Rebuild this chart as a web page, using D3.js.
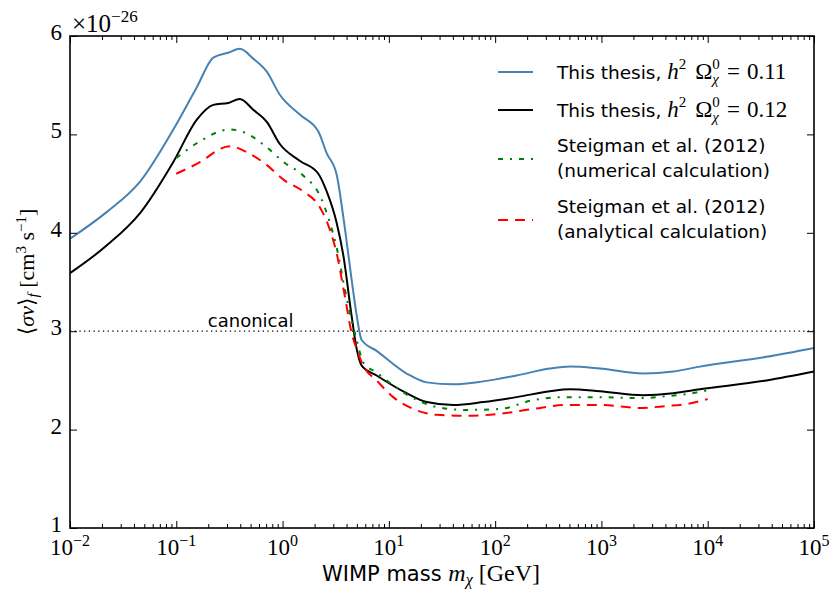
<!DOCTYPE html>
<html>
<head>
<meta charset="utf-8">
<script src="https://cdn.jsdelivr.net/npm/d3@7"></script>
<style>
  body { margin: 0; background: #fff; }
  svg { display: block; }
</style>
</head>
<body>
<div id="chart"></div>
<script>
// WIMP freeze-out cross-section vs mass (values in units of 1e-26 cm^3/s)
const massThesis = [0.01, 0.0221, 0.0456, 0.0938, 0.156, 0.223, 0.308, 0.397, 0.53, 0.708, 0.946,
  1.46, 2.17, 2.6, 3.23, 3.73, 4.47, 4.98, 5.55, 7.67, 14.7, 22.7, 40.4, 77.3, 159, 328, 506,
  968, 2477, 4742, 8453, 35810, 100000];
const sigma011 = [3.94, 4.21, 4.52, 5.05, 5.48, 5.78, 5.83, 5.87, 5.77, 5.64, 5.40,
  5.20, 5.03, 4.81, 4.59, 4.16, 3.52, 3.16, 2.91, 2.80, 2.57, 2.48, 2.46, 2.49, 2.55, 2.62, 2.64,
  2.62, 2.57, 2.59, 2.64, 2.74, 2.83];
const sigma012 = [3.59, 3.87, 4.20, 4.72, 5.15, 5.30, 5.32, 5.36, 5.25, 5.13, 4.90,
  4.73, 4.60, 4.42, 4.10, 3.77, 3.15, 2.82, 2.65, 2.55, 2.37, 2.28, 2.25, 2.28, 2.33, 2.39, 2.41,
  2.39, 2.35, 2.37, 2.41, 2.50, 2.59];

const massSteig = [0.1, 0.156, 0.32, 0.458, 0.708, 1.02, 1.57, 2.24, 2.79, 3.23, 3.86, 4.47,
  4.98, 5.75, 7.67, 11.0, 17.0, 28.2, 54.0, 111, 229, 470, 968, 2301, 4102, 6324, 10000];
const sigmaNum = [4.76, 4.91, 5.05, 5.01, 4.87, 4.72, 4.58, 4.38, 4.10, 3.85, 3.42, 3.11,
  2.91, 2.68, 2.58, 2.45, 2.32, 2.23, 2.20, 2.21, 2.30, 2.33, 2.33, 2.32, 2.34, 2.36, 2.40];
const sigmaAna = [4.60, 4.70, 4.88, 4.82, 4.69, 4.54, 4.42, 4.26, 4.03, 3.79, 3.35, 2.98,
  2.82, 2.65, 2.50, 2.33, 2.21, 2.15, 2.14, 2.16, 2.21, 2.25, 2.25, 2.22, 2.24, 2.26, 2.31];

const canonical = 3;
const yTicks = [1, 2, 3, 4, 5, 6];
const xExponents = [-2, -1, 0, 1, 2, 3, 4, 5];

const W = 833, H = 590;
const margin = {top: 36, right: 19, bottom: 62, left: 70};
const width = W - margin.left - margin.right,
      height = H - margin.top - margin.bottom;

const svg = d3.select("#chart").append("svg")
    .attr("width", W).attr("height", H);
const g = svg.append("g")
    .attr("transform", "translate(" + margin.left + "," + margin.top + ")");

const x = d3.scaleLog().domain([1e-2, 1e5]).range([0, width]);
const y = d3.scaleLinear().domain([1, 6]).range([height, 0]);

const serif = "'Liberation Serif', 'DejaVu Serif', serif";
const sans = "'DejaVu Sans', sans-serif";

// canonical line
g.append("line")
    .attr("x1", 0).attr("x2", width)
    .attr("y1", y(canonical)).attr("y2", y(canonical))
    .attr("stroke", "#000").attr("stroke-width", 1.3)
    .attr("stroke-dasharray", "1.3,3.4");
g.append("text")
    .attr("x", x(0.198)).attr("y", y(canonical) - 4)
    .attr("font-family", sans).attr("font-size", 18)
    .text("canonical");

const series = [
  {mass: massThesis, vals: sigma011, color: "#4682b4", dash: null},
  {mass: massThesis, vals: sigma012, color: "#000000", dash: null},
  {mass: massSteig, vals: sigmaNum, color: "#008000", dash: "5,7,2,7"},
  {mass: massSteig, vals: sigmaAna, color: "#ff0000", dash: "10,7"}
];

const line = d3.line()
    .x(d => x(d[0]))
    .y(d => y(d[1]))
    .curve(d3.curveMonotoneX);

series.forEach(s => {
  g.append("path")
    .datum(s.mass.map((m, i) => [m, s.vals[i]]))
    .attr("fill", "none")
    .attr("stroke", s.color)
    .attr("stroke-width", 2)
    .attr("stroke-dasharray", s.dash)
    .attr("d", line);
});

// axes: ticks inside on all four sides
const minor = [];
for (let e = -2; e < 5; e++) for (let k = 2; k < 10; k++) minor.push(k * Math.pow(10, e));
const majors = xExponents.map(e => Math.pow(10, e));

const axB = g.append("g").attr("transform", "translate(0," + height + ")");
axB.call(d3.axisBottom(x).tickValues(majors).tickSizeInner(-7).tickSizeOuter(0).tickFormat(""));
axB.append("g").call(d3.axisBottom(x).tickValues(minor).tickSizeInner(-4).tickSizeOuter(0).tickFormat(""));
const axT = g.append("g");
axT.call(d3.axisTop(x).tickValues(majors).tickSizeInner(-7).tickSizeOuter(0).tickFormat(""));
axT.append("g").call(d3.axisTop(x).tickValues(minor).tickSizeInner(-4).tickSizeOuter(0).tickFormat(""));
const axL = g.append("g");
axL.call(d3.axisLeft(y).tickValues(yTicks).tickSizeInner(-7).tickSizeOuter(0).tickFormat(""));
const axR = g.append("g").attr("transform", "translate(" + width + ",0)");
axR.call(d3.axisRight(y).tickValues(yTicks).tickSizeInner(-7).tickSizeOuter(0).tickFormat(""));
g.selectAll(".domain").remove();
g.selectAll(".tick line").attr("stroke", "#000").attr("stroke-width", 1);

g.append("rect")
    .attr("width", width).attr("height", height)
    .attr("fill", "none").attr("stroke", "#000").attr("stroke-width", 1.6);

// tick labels
yTicks.forEach(t => {
  g.append("text")
    .attr("x", -8).attr("y", y(t) + 4)
    .attr("text-anchor", "end")
    .attr("font-family", serif).attr("font-size", 23)
    .text(t);
});
xExponents.forEach(e => {
  const t = g.append("text")
    .attr("x", x(Math.pow(10, e))).attr("y", height + 27)
    .attr("text-anchor", "middle")
    .attr("font-family", serif).attr("font-size", 23);
  t.append("tspan").text("10");
  t.append("tspan").attr("dy", -9).attr("font-size", 16).text(e < 0 ? "\u2212" + (-e) : e);
});

// offset text
const off = g.append("text")
    .attr("x", 2).attr("y", -4)
    .attr("font-family", serif).attr("font-size", 25);
off.append("tspan").text("\u00d710");
off.append("tspan").attr("dy", -10).attr("font-size", 17).text("\u221226");

// axis labels
const xl = svg.append("text")
    .attr("x", margin.left + width / 2 - 11).attr("y", 581)
    .attr("text-anchor", "middle")
    .attr("font-family", sans).attr("font-size", 21);
xl.append("tspan").text("WIMP mass ");
xl.append("tspan").attr("font-family", serif).attr("font-style", "italic").attr("font-size", 24).text("m");
xl.append("tspan").attr("font-family", serif).attr("font-style", "italic").attr("font-size", 16).attr("dy", 4).text("\u03c7");
xl.append("tspan").attr("font-family", serif).attr("font-size", 24).attr("dy", -4).text(" [GeV]");

const yl = svg.append("text")
    .attr("transform", "translate(34," + (margin.top + height / 2 - 10) + ") rotate(-90)")
    .attr("text-anchor", "middle")
    .attr("font-family", serif).attr("font-size", 22);
yl.append("tspan").text("\u27e8");
yl.append("tspan").attr("font-style", "italic").text("\u03c3v");
yl.append("tspan").text("\u27e9");
yl.append("tspan").attr("font-style", "italic").attr("font-size", 15).attr("dy", 4).text("f");
yl.append("tspan").attr("dy", -4).text("  [cm");
yl.append("tspan").attr("font-size", 15).attr("dy", -8).text("3");
yl.append("tspan").attr("dy", 8).text(" s");
yl.append("tspan").attr("font-size", 15).attr("dy", -8).text("\u22121");
yl.append("tspan").attr("dy", 8).text("]");

// legend
const legend = svg.append("g");
const legY = [72, 110, 159, 220];
const legText = [73, 111, 152, 213];
series.forEach((s, i) => {
  legend.append("line")
    .attr("x1", 498).attr("x2", 533)
    .attr("y1", legY[i]).attr("y2", legY[i])
    .attr("stroke", s.color).attr("stroke-width", 2)
    .attr("stroke-dasharray", s.dash);
});
["0.11", "0.12"].forEach((v, i) => {
  const t = legend.append("text")
    .attr("x", 557).attr("y", legText[i] + 6)
    .attr("font-family", sans).attr("font-size", 18.5);
  t.append("tspan").text("This thesis, ");
  t.append("tspan").attr("font-family", serif).attr("font-style", "italic").attr("font-size", 23).text("h");
  t.append("tspan").attr("font-family", serif).attr("font-size", 15).attr("dy", -10).text("2");
  t.append("tspan").attr("font-family", serif).attr("font-size", 23).attr("dx", 9).attr("dy", 10).text("\u03a9");
  t.append("tspan").attr("font-family", serif).attr("font-size", 15).attr("dy", -10).text("0");
  t.append("tspan").attr("font-family", serif).attr("font-style", "italic").attr("font-size", 15)
    .attr("dx", -7.5).attr("dy", 15).text("\u03c7");
  t.append("tspan").attr("font-family", serif).attr("font-size", 23).attr("dx", 8).attr("dy", -5).text("=");
  t.append("tspan").attr("font-family", serif).attr("font-size", 23).attr("dx", 7).text(v);
});
[["Steigman et al. (2012)", "(numerical calculation)"],
 ["Steigman et al. (2012)", "(analytical calculation)"]].forEach((lines, i) => {
  lines.forEach((txt, j) => {
    legend.append("text")
      .attr("x", 557).attr("y", legText[i + 2] + j * 25)
      .attr("font-family", sans).attr("font-size", 18.5)
      .text(txt);
  });
});
</script>
</body>
</html>
